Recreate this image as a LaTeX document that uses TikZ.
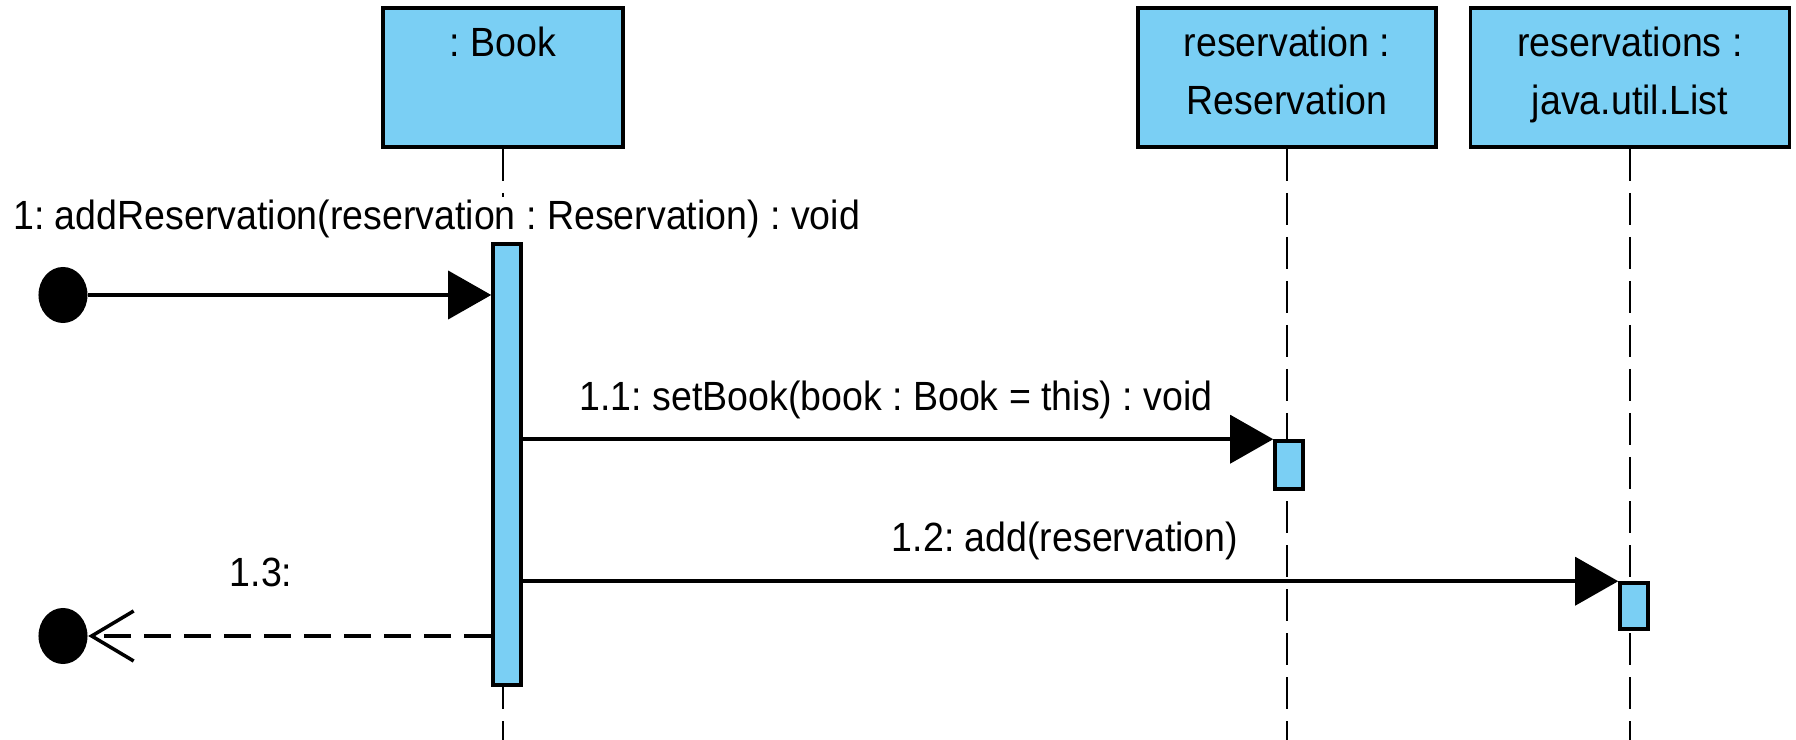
\documentclass[tikz,border=0pt]{standalone}
\usepackage{fontspec}
\setmainfont{Liberation Sans}[FakeStretch=0.92]
\usetikzlibrary{arrows.meta,shapes.geometric}
\definecolor{objblau}{RGB}{122,207,244}
\frenchspacing

\begin{document}
\begin{tikzpicture}[x=0.01cm, y=-0.01cm,
    font=\fontsize{11.6}{14}\selectfont,
    objekt/.style={draw, line width=1pt, fill=objblau, minimum height=1.39cm, inner sep=0pt},
    balken/.style={draw, line width=1pt, fill=objblau, minimum width=0.28cm, inner sep=0pt},
    punkt/.style={ellipse, fill=black, minimum width=0.49cm, minimum height=0.56cm, inner sep=0pt},
    lebenslinie/.style={line width=0.8pt, dash pattern=on 0.32cm off 0.12cm},
    nachricht/.style={line width=1pt, -{Triangle[length=0.43cm, width=0.48cm]}},
    antwort/.style={line width=1pt, dash pattern=on 0.27cm off 0.13cm, -{Straight Barb[length=0.42cm, width=0.5cm]}}]

    \useasboundingbox (0,0) rectangle (1796,740);

    % --- Objekte ---
    \node[objekt, minimum width=2.4cm] (book) at (503,77.5) {};
    \node[objekt, minimum width=2.98cm] (reservation) at (1287,77.5) {};
    \node[objekt, minimum width=3.19cm] (reservations) at (1630,77.5) {};

    % Beschriftungen der Objekte
    \node[anchor=base] (book-name) at (503,57) {: Book};
    \node[anchor=base] (reservation-name) at (1287,57) {reservation :};
    \node[anchor=base] (reservation-typ) at (1287,115) {Reservation};
    \node[anchor=base] (reservations-name) at (1630,57) {reservations :};
    \node[anchor=base] (reservations-typ) at (1630,115) {java.util.List};

    % --- Lebenslinien ---
    \coordinate (book-ende) at (503,740);
    \coordinate (reservation-ende) at (1287,740);
    \coordinate (reservations-ende) at (1630,740);
    \draw[lebenslinie] (book) -- (book-ende);
    \draw[lebenslinie] (reservation) -- (reservation-ende);
    \draw[lebenslinie] (reservations) -- (reservations-ende);

    % Beschriftung der ersten Nachricht (verdeckt die Lebenslinie)
    \node[anchor=base west, fill=white, inner sep=1pt] (n1) at (9,230) {1: addReservation(reservation : Reservation) : void};

    % --- Aktivierungsbalken ---
    \node[balken, minimum height=4.41cm] (book-balken) at (507,464.5) {};
    \node[balken, minimum height=0.48cm] (reservation-balken) at (1289,465) {};
    \node[balken, minimum height=0.46cm] (reservations-balken) at (1634,606) {};

    % --- Nachrichten ---
    % 1: eingehende Nachricht
    \node[punkt] (start) at (63,295) {};
    \draw[nachricht] (start) -- (start -| book-balken.west);

    % 1.1 und 1.2
    \draw[nachricht] (reservation-balken.north west -| book-balken.east) -- (reservation-balken.north west);
    \node[anchor=base] (n11) at (896,411) {1.1: setBook(book : Book = this) : void};
    \draw[nachricht] (reservations-balken.north west -| book-balken.east) -- (reservations-balken.north west);
    \node[anchor=base] (n12) at (1065,552) {1.2: add(reservation)};

    % 1.3: Antwort (gestrichelt)
    \node[punkt] (ende) at (63,636) {};
    \draw[antwort] (ende -| book-balken.west) -- (ende);
    \node[anchor=base] (n13) at (261,587) {1.3:};
\end{tikzpicture}
\end{document}
